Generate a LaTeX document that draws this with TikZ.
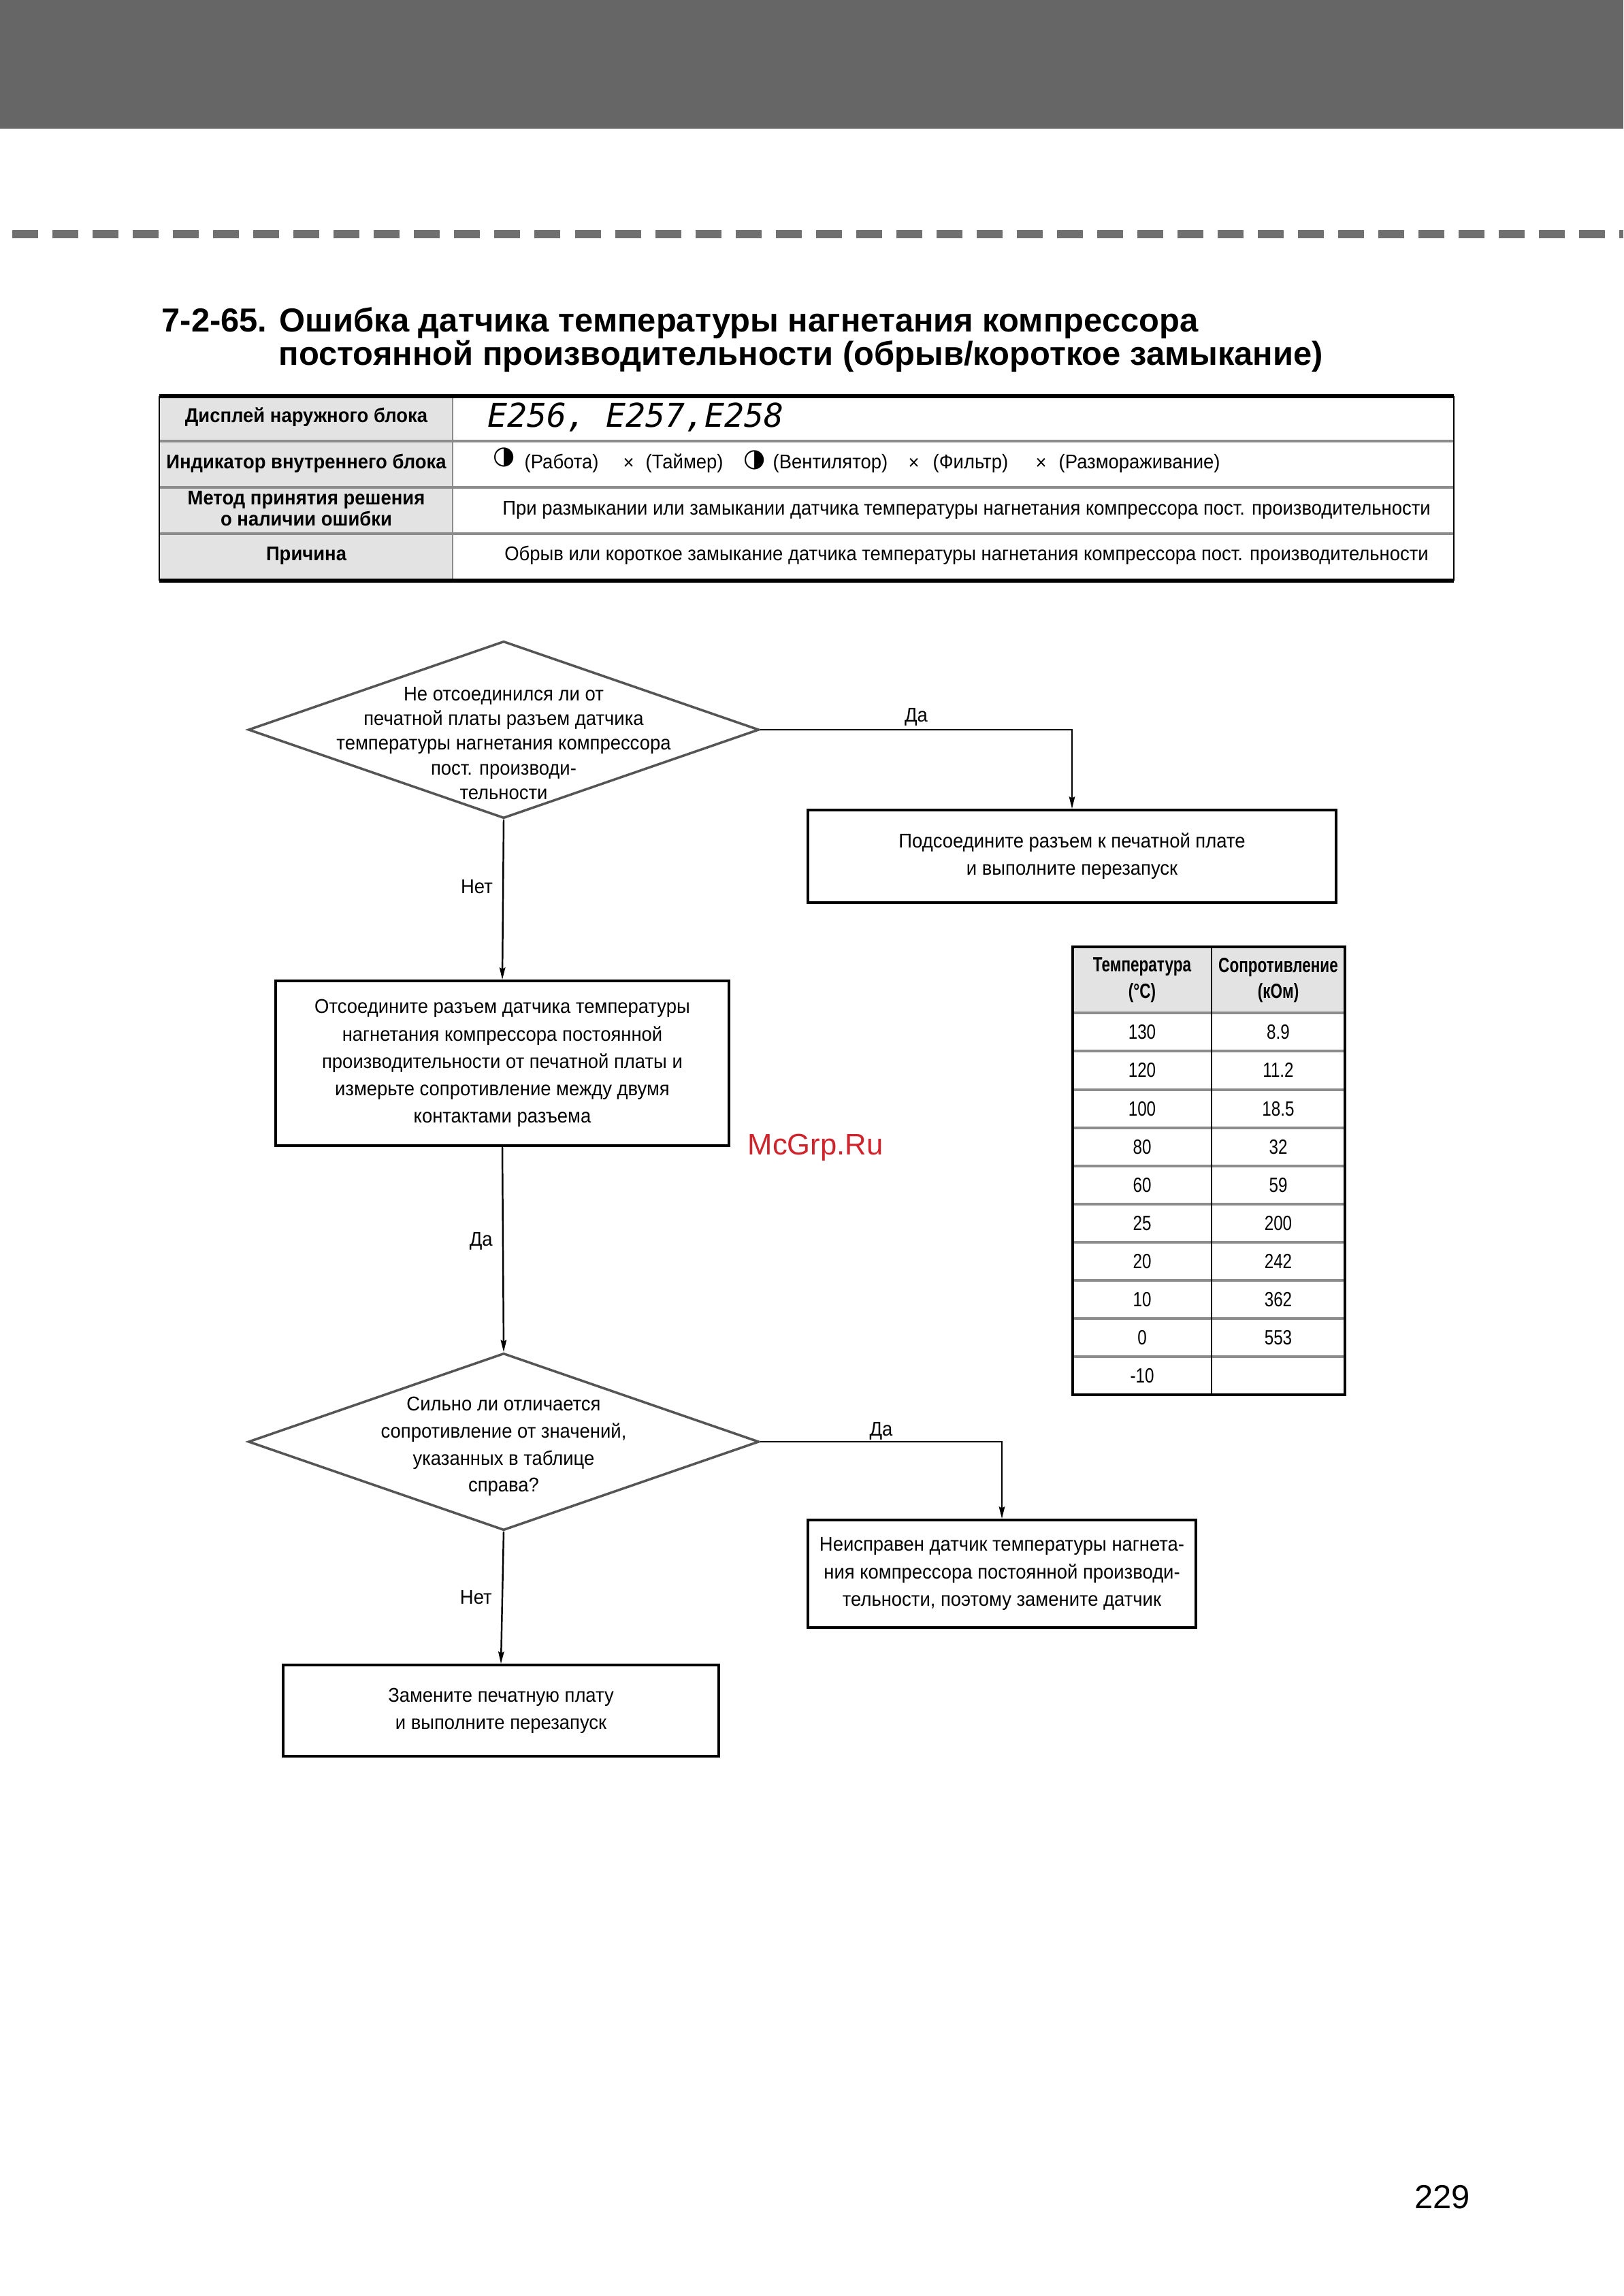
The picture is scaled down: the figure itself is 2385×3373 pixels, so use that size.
\documentclass[tikz,border=0pt]{standalone}
\usepackage{fontspec}
\setmainfont{Liberation Sans}
\newfontfamily\condfont{Liberation Sans}[FakeStretch=0.94]
\newfontfamily\narrowfont{Liberation Sans}[FakeStretch=0.8]
\newfontfamily\headnarrowfont{Liberation Sans}[FakeStretch=0.745]
\newfontfamily\symfont{DejaVu Sans}
\newfontfamily\segfont{DejaVu Sans Mono}
\usepackage{xcolor}
\usetikzlibrary{arrows.meta, positioning, shapes.geometric}

\definecolor{bandgray}{HTML}{666666}
\definecolor{dashgray}{HTML}{707070}
\definecolor{rulegray}{HTML}{8C8C8C}
\definecolor{cellgray}{HTML}{E3E3E3}
\definecolor{decgray}{HTML}{555555}
\definecolor{markred}{HTML}{D0232B}

\newcommand{\flowfont}{\condfont\fontsize{8.3}{11.4}\selectfont}

\begin{document}
\begin{tikzpicture}[x=0.01cm, y=-0.01cm, >={Stealth[length=5pt, width=2.4pt, inset=0.6pt]},
	box/.style={draw, line width=1.1pt, align=center, inner sep=0pt, font=\flowfont},
	dec/.style={diamond, draw=decgray, line width=1pt, inner sep=0pt, minimum width=7.5cm, minimum height=2.6cm},
	dectext/.style={align=center, font=\condfont\fontsize{8.3}{10.3}\selectfont},
	flow/.style={->, line width=0.7pt},
	tag/.style={font=\flowfont, inner sep=4pt},
	head/.style={align=center, font=\condfont\bfseries\fontsize{8.3}{7.5}\selectfont},
	cell/.style={font=\flowfont, anchor=west, inner sep=0pt},
	num/.style={font=\narrowfont\fontsize{8.6}{10}\selectfont},
	numhead/.style={align=center, font=\headnarrowfont\bfseries\fontsize{8.6}{11}\selectfont}
	]
	
	% 1. page ground, grey band and dashed rule
	\fill[white] (0,0) rectangle (2385,3373);
	\useasboundingbox (0,0) rectangle (2385,3373);
	\fill[bandgray] (0,0) rectangle (2385,189);
	\draw[dashgray, line width=3.4pt, dash pattern=on 0.38cm off 0.21cm] (18,344) -- (2385,344);
	
	% 2. heading
	\node[anchor=west, inner sep=0pt, font=\bfseries\fontsize{13.9}{16}\selectfont] (ttl1) at (237,475) {7-2-65. Ошибка датчика температуры нагнетания компрессора};
	\node[anchor=west, inner sep=0pt, font=\bfseries\fontsize{13.9}{16}\selectfont] (ttl2) at (409,523) {постоянной производительности (обрыв/короткое замыкание)};
	
	% 3. error code table
	\fill[cellgray] (234,582) rectangle (665,853);
	\draw[rulegray, line width=1.2pt] (234,648) -- (2136,648) (234,716) -- (2136,716) (234,784) -- (2136,784);
	\draw[rulegray, line width=0.5pt] (665,582) -- (665,853);
	\draw[line width=0.8pt] (234,582) -- (234,853) (2136,582) -- (2136,853);
	\draw[line width=1.5pt] (234,582) -- (2136,582) (234,853) -- (2136,853);
	
	\node[head] (h1) at (450,613) {Дисплей наружного блока};
	\node[head] (h2) at (450,681) {Индикатор внутреннего блока};
	\node[head] (h3) at (450,747) {Метод принятия решения\\о наличии ошибки};
	\node[head] (h4) at (450,816) {Причина};
	
	\node[anchor=west, inner sep=0pt, font=\segfont\itshape\fontsize{13.7}{16}\selectfont] (codes) at (716,613) {E256, E257,E258};
	\node[cell, font=\symfont\fontsize{10.5}{12}\selectfont] (s1) at (724,672) {◑};
	\node[cell] (s2) at (770,681) {(Работа)};
	\node[cell] (s3) at (915,681) {×};
	\node[cell] (s4) at (948,681) {(Таймер)};
	\node[cell, font=\symfont\fontsize{10.5}{12}\selectfont] (s5) at (1092,676) {◑};
	\node[cell] (s6) at (1135,681) {(Вентилятор)};
	\node[cell] (s7) at (1334,681) {×};
	\node[cell] (s8) at (1370,681) {(Фильтр)};
	\node[cell] (s9) at (1521,681) {×};
	\node[cell] (s10) at (1555,681) {(Размораживание)};
	\node[font=\flowfont] (m3) at (1420,749) {При размыкании или замыкании датчика температуры нагнетания компрессора пост. производительности};
	\node[font=\flowfont] (m4) at (1420,816) {Обрыв или короткое замыкание датчика температуры нагнетания компрессора пост. производительности};
	
	% 4. flow chart
	\node[dec] (q1) at (740,1072) {};
	\node[dectext, yshift=-0.2cm] (q1t) at (q1) {Не отсоединился ли от\\печатной платы разъем датчика\\температуры нагнетания компрессора\\пост. производи-\\тельности};
	\node[box, minimum width=7.76cm, minimum height=1.36cm] (b1) at (1575,1258) {Подсоедините разъем к печатной плате\\и выполните перезапуск};
	\node[box, minimum width=6.66cm, minimum height=2.42cm] (b2) at (738,1562) {Отсоедините разъем датчика температуры\\нагнетания компрессора постоянной\\производительности от печатной платы и\\измерьте сопротивление между двумя\\контактами разъема};
	\node[dec] (q2) at (740,2118) {};
	\node[dectext, font=\condfont\fontsize{8.3}{11.3}\selectfont, yshift=-0.07cm] (q2t) at (q2) {Сильно ли отличается\\сопротивление от значений,\\указанных в таблице\\справа?};
	\node[box, minimum width=5.7cm, minimum height=1.58cm] (b3) at (1472,2312) {Неисправен датчик температуры нагнета-\\ния компрессора постоянной производи-\\тельности, поэтому замените датчик};
	\node[box, minimum width=6.4cm, minimum height=1.34cm] (b4) at (736,2513) {Замените печатную плату\\и выполните перезапуск};
	
	\draw[flow] (q1.east) -| node[tag, above, pos=0.25, inner sep=1.2pt] (yes1) {Да} (b1.north);
	\draw[flow] (q1.south) -- node[tag, left, pos=0.42] (no1) {Нет} (b2.north);
	\draw[flow] (b2.south) -- node[tag, left, pos=0.46] (yes2) {Да} (q2.north);
	\draw[flow] (q2.east) -| node[tag, above, pos=0.25, inner sep=0.4pt] (yes3) {Да} (b3.north);
	\draw[flow] (q2.south) -- node[tag, left, pos=0.5] (no2) {Нет} (b4.north);
	
	% 5. resistance table
	\fill[cellgray] (1576,1391) rectangle (1976,1488);
	\draw[rulegray, line width=0.9pt] (1576,1488) -- (1976,1488) (1576,1544) -- (1976,1544) (1576,1601) -- (1976,1601)
		(1576,1657) -- (1976,1657) (1576,1713) -- (1976,1713) (1576,1769) -- (1976,1769) (1576,1825) -- (1976,1825)
		(1576,1881) -- (1976,1881) (1576,1937) -- (1976,1937) (1576,1993) -- (1976,1993);
	\draw[line width=0.7pt] (1780,1391) -- (1780,2049);
	\draw[line width=1.2pt] (1576,1391) rectangle (1976,2049);
	
	\node[numhead] (th1) at (1678,1440) {Температура\\(°C)};
	\node[numhead] (th2) at (1878,1440) {Сопротивление\\(кОм)};
	\node[num] (r1a) at (1678,1516) {130}; \node[num] (r1b) at (1878,1516) {8.9};
	\node[num] (r2a) at (1678,1572) {120}; \node[num] (r2b) at (1878,1572) {11.2};
	\node[num] (r3a) at (1678,1629) {100}; \node[num] (r3b) at (1878,1629) {18.5};
	\node[num] (r4a) at (1678,1685) {80}; \node[num] (r4b) at (1878,1685) {32};
	\node[num] (r5a) at (1678,1741) {60}; \node[num] (r5b) at (1878,1741) {59};
	\node[num] (r6a) at (1678,1797) {25}; \node[num] (r6b) at (1878,1797) {200};
	\node[num] (r7a) at (1678,1853) {20}; \node[num] (r7b) at (1878,1853) {242};
	\node[num] (r8a) at (1678,1909) {10}; \node[num] (r8b) at (1878,1909) {362};
	\node[num] (r9a) at (1678,1965) {0}; \node[num] (r9b) at (1878,1965) {553};
	\node[num] (r10a) at (1678,2021) {-10};
	
	% 6. watermark and page number
	\node[font=\fontsize{12.4}{14}\selectfont, text=markred] (mark) at (1198,1686) {McGrp.Ru};
	\node[font=\fontsize{13.9}{16}\selectfont] (page) at (2119,3228) {229};
	
\end{tikzpicture}
\end{document}
